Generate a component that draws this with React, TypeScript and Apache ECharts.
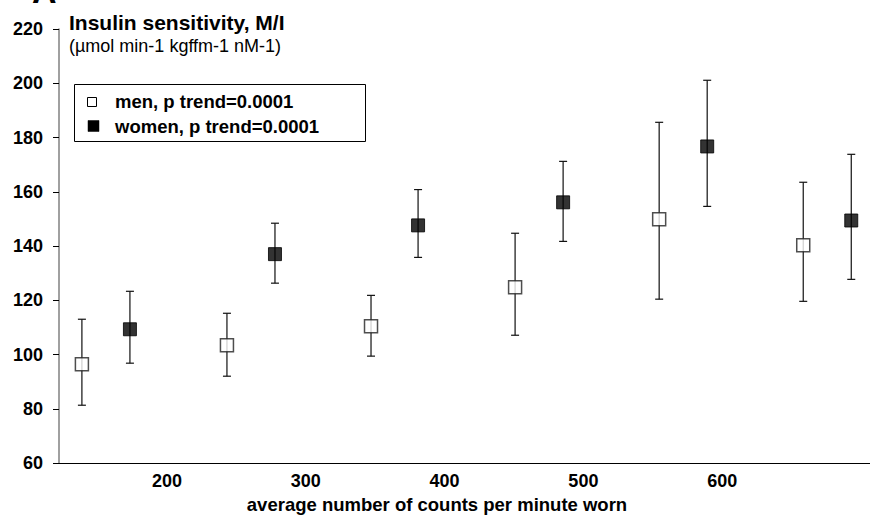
import React, { useEffect, useRef } from "react";
import * as echarts from "echarts";

const menX = [138.7, 243.2, 347.0, 450.8, 554.6, 658.4];
const menMean = [96.4, 103.4, 110.4, 124.8, 149.9, 140.3];
const menLow = [81.3, 92.0, 99.4, 107.1, 120.4, 119.6];
const menHigh = [113.0, 115.2, 121.8, 144.7, 185.6, 163.5];

const womenX = [173.3, 277.8, 380.9, 485.4, 589.2, 693.0];
const womenMean = [109.3, 137.0, 147.6, 156.1, 176.7, 149.4];
const womenLow = [96.8, 126.3, 135.8, 141.7, 154.6, 127.7];
const womenHigh = [123.3, 148.4, 160.8, 171.2, 201.1, 173.8];

const xTickValues = [200, 300, 400, 500, 600];
const yMin = 60;
const yMax = 220;
const yStep = 20;

const titleText = "Insulin sensitivity, M/I";
const unitText = "(µmol min-1 kgffm-1 nM-1)";
const xTitle = "average number of counts per minute worn";
const menLabel = "men, p trend=0.0001";
const womenLabel = "women, p trend=0.0001";

const FONT = "'Liberation Sans', Arial, Helvetica, sans-serif";

function errorSeries(name: string, xs: number[], lows: number[], highs: number[]) {
  return {
    type: "custom",
    name,
    z: 1,
    silent: true,
    data: xs.map((x, i) => [x, lows[i], highs[i]]),
    renderItem: (params: any, api: any) => {
      const x = api.value(0);
      const lo = api.coord([x, api.value(1)]);
      const hi = api.coord([x, api.value(2)]);
      const hw = 4;
      const style = { stroke: "#111", lineWidth: 1.2 };
      return {
        type: "group",
        children: [
          { type: "line", shape: { x1: lo[0], y1: lo[1], x2: hi[0], y2: hi[1] }, style },
          { type: "line", shape: { x1: lo[0] - hw, y1: lo[1], x2: lo[0] + hw, y2: lo[1] }, style },
          { type: "line", shape: { x1: hi[0] - hw, y1: hi[1], x2: hi[0] + hw, y2: hi[1] }, style },
        ],
      };
    },
  };
}

export default function App() {
  const ref = useRef<HTMLDivElement>(null);
  useEffect(() => {
    if (!ref.current) return;
    const chart = echarts.init(ref.current, null, { renderer: "svg" });
    chart.setOption({
      animation: false,
      backgroundColor: "#ffffff",
      textStyle: { fontFamily: FONT },
      grid: { left: 59, right: 0, top: 29, bottom: 56 },
      xAxis: {
        type: "value",
        min: 122.2,
        max: 706.5,
        axisLine: { show: true, lineStyle: { color: "#000", width: 1 } },
        axisTick: { show: false },
        splitLine: { show: false },
        axisLabel: {
          customValues: xTickValues,
          margin: 9,
          fontSize: 18,
          fontWeight: "bold",
          color: "#000",
          fontFamily: FONT,
        },
      },
      yAxis: {
        type: "value",
        min: yMin,
        max: yMax,
        interval: yStep,
        axisLine: { show: true, lineStyle: { color: "#808080", width: 1.5 } },
        axisTick: { show: true, length: 6, lineStyle: { color: "#000", width: 1 } },
        splitLine: { show: false },
        axisLabel: {
          margin: 16,
          fontSize: 18,
          fontWeight: "bold",
          color: "#000",
          fontFamily: FONT,
        },
      },
      series: [
        errorSeries("men-err", menX, menLow, menHigh),
        errorSeries("women-err", womenX, womenLow, womenHigh),
        {
          type: "scatter",
          name: menLabel,
          z: 3,
          symbol: "rect",
          symbolSize: 13,
          itemStyle: { color: "#fff", borderColor: "#222", borderWidth: 1.5 },
          data: menX.map((x, i) => [x, menMean[i]]),
        },
        {
          type: "scatter",
          name: womenLabel,
          z: 3,
          symbol: "rect",
          symbolSize: 13,
          itemStyle: { color: "#000", borderColor: "#000", borderWidth: 1 },
          data: womenX.map((x, i) => [x, womenMean[i]]),
        },
      ],
      graphic: [
        {
          type: "text",
          left: 32,
          top: -26,
          style: { text: "A", font: `bold 34px ${FONT}`, fill: "#000" },
        },
        {
          type: "text",
          x: 69,
          y: 22,
          style: {
            text: titleText,
            font: `bold 21px ${FONT}`,
            fill: "#000",
            verticalAlign: "middle",
          },
        },
        {
          type: "text",
          x: 69,
          y: 46,
          style: {
            text: unitText,
            font: `18px ${FONT}`,
            fill: "#000",
            verticalAlign: "middle",
          },
        },
        {
          type: "rect",
          shape: { x: 74.5, y: 84.5, width: 291, height: 57 },
          style: { fill: "#fff", stroke: "#000", lineWidth: 1 },
          z: 10,
        },
        {
          type: "rect",
          shape: { x: 87.5, y: 97.5, width: 9, height: 9 },
          style: { fill: "#fff", stroke: "#000", lineWidth: 1 },
          z: 11,
        },
        {
          type: "rect",
          shape: { x: 88, y: 120.5, width: 11, height: 11 },
          style: { fill: "#000", stroke: "#000", lineWidth: 0.5 },
          z: 11,
        },
        {
          type: "text",
          x: 115,
          y: 101.5,
          z: 11,
          style: {
            text: menLabel,
            font: `bold 18.5px ${FONT}`,
            fill: "#000",
            verticalAlign: "middle",
          },
        },
        {
          type: "text",
          x: 115,
          y: 126,
          z: 11,
          style: {
            text: womenLabel,
            font: `bold 18.5px ${FONT}`,
            fill: "#000",
            verticalAlign: "middle",
          },
        },
        {
          type: "text",
          x: 437,
          y: 504,
          style: {
            text: xTitle,
            font: `bold 18.5px ${FONT}`,
            fill: "#000",
            align: "center",
            verticalAlign: "middle",
          },
        },
      ],
    });
    return () => chart.dispose();
  }, []);
  return (
    <div
      ref={ref}
      style={{ position: "fixed", left: 0, top: 0, width: 870, height: 519 }}
    />
  );
}
